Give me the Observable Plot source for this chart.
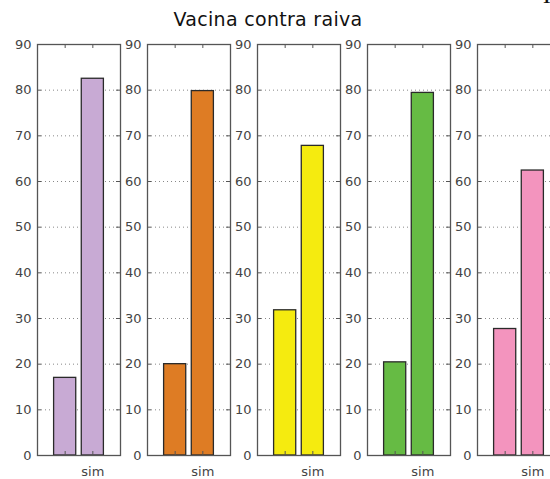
<!DOCTYPE html>
<html><head><meta charset="utf-8">
<script src="https://cdn.jsdelivr.net/npm/d3@7"></script>
<script src="https://cdn.jsdelivr.net/npm/@observablehq/plot@0.6"></script>
<style>
html,body{margin:0;padding:0;background:#fff;}
#root{position:relative;width:550px;height:479px;overflow:hidden;font-family:"DejaVu Sans",sans-serif;}
#title{position:absolute;left:0;width:536px;top:10px;text-align:center;font-size:19px;line-height:19px;color:#111;white-space:nowrap;letter-spacing:0.3px;}
.panel{position:absolute;top:0;}
#corner{position:absolute;left:542px;top:-8px;font-family:"DejaVu Serif",serif;font-weight:bold;font-size:13px;line-height:13px;color:#111;}
</style></head>
<body><div id="root"><div id="title">Vacina contra raiva</div><div id="corner">1</div></div>
<script>
const categories = ["não", "sim"];
const tickLabels = ["", "sim"];
const valuesNao = [17, 20, 31.8, 20.4, 27.7];
const valuesSim = [82.5, 79.8, 67.8, 79.4, 62.4];
const colors = ["#c8aad4", "#de7c24", "#f5eb0f", "#66bb44", "#f394be"];
const yTicks = [0, 10, 20, 30, 40, 50, 60, 70, 80, 90];

const root = document.getElementById("root");
const W = 111, H = 479, ML = 27, MR = 1, MT = 44, MB = 24;
const tickX = 4 / ((W - ML - MR) / 3);
const tickY = 4 / ((H - MT - MB) / 90);

colors.forEach((color, i) => {
  const rows = categories.map((c, j) => ({cat: c, pos: j + 1, value: j === 0 ? valuesNao[i] : valuesSim[i]}));
  const chart = Plot.plot({
    width: W, height: H,
    marginLeft: ML, marginRight: MR, marginTop: MT, marginBottom: MB,
    x: {domain: [0, 3]},
    y: {domain: [0, 90]},
    style: {fontFamily: "DejaVu Sans", fontSize: "13px", color: "#444", background: "transparent", overflow: "visible"},
    marks: [
      Plot.gridY(yTicks.slice(1, -1), {stroke: "#888", strokeOpacity: 1, strokeDasharray: "1,3"}),
      Plot.rect(rows, {x1: d => d.pos - 0.4, x2: d => d.pos + 0.4, y1: 0, y2: "value", fill: color, stroke: "#2a2a2a", strokeWidth: 1.3}),
      Plot.ruleY(yTicks, {x1: 0, x2: tickX, stroke: "#555"}),
      Plot.ruleY(yTicks, {x1: 3 - tickX, x2: 3, stroke: "#555"}),
      Plot.ruleX([1, 2], {y1: 0, y2: tickY, stroke: "#555"}),
      Plot.ruleX([1, 2], {y1: 90 - tickY, y2: 90, stroke: "#555"}),
      Plot.frame({stroke: "#555", strokeWidth: 1.3}),
      Plot.axisY({ticks: yTicks, tickSize: 0, tickPadding: 6, label: null}),
      Plot.axisX({ticks: [1, 2], tickSize: 0, tickPadding: 11, label: null, tickFormat: d => tickLabels[d - 1]})
    ]
  });
  chart.classList.add("panel");
  chart.style.left = (10 + 110 * i) + "px";
  root.appendChild(chart);
});
</script>
</body></html>
